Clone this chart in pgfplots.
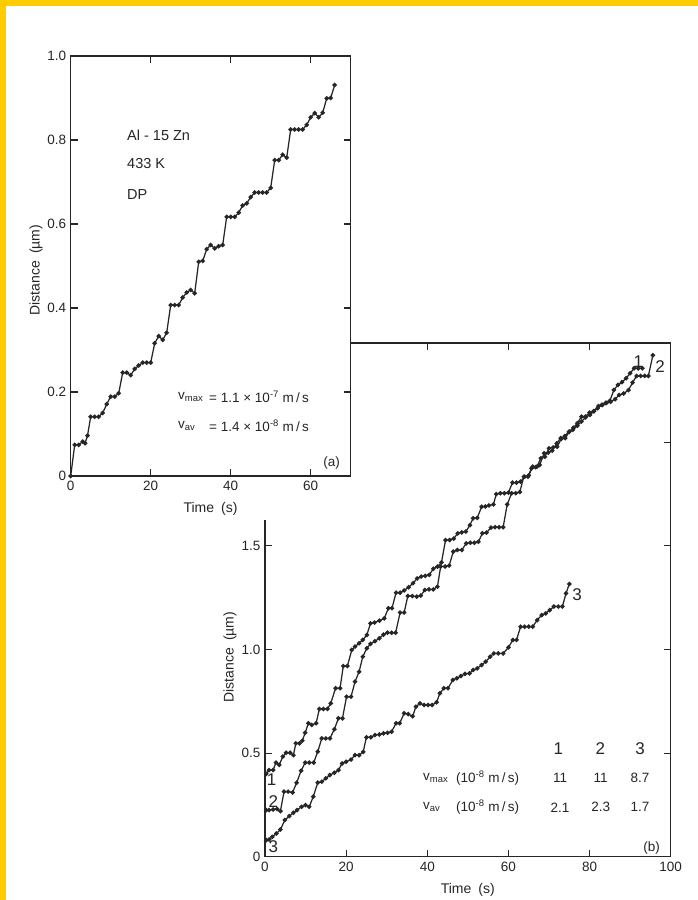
\documentclass[border=0pt]{standalone}
\usepackage{fontspec}
\setmainfont{Liberation Sans}
\usepackage{pgfplots}
\pgfplotsset{compat=1.18}
\definecolor{ink}{RGB}{38,38,38}
\definecolor{frameyellow}{RGB}{255,204,0}
\newcommand{\fs}[1]{\fontsize{#1bp}{#1bp}\selectfont}
\pgfplotsset{
  panel/.style={
    scale only axis, anchor=south west, clip=false,
    axis line style={ink, line width=1.5bp},
    every tick/.style={ink, line width=1.1bp},
    major tick length=7bp, tick align=inside,
    ticklabel style={font=\fs{13.5}, text=ink},
    /pgf/number format/assume math mode=true,
    xticklabel style={yshift=-2bp},
    yticklabel style={xshift=-1bp},
  },
  curve/.style={ink, line width=1.25bp, mark=*, mark size=1.6bp, mark options={ink, solid}},
}
\begin{document}
\begin{tikzpicture}
\useasboundingbox (0,0) rectangle (698bp,900bp);
\fill[white] (0,0) rectangle (698bp,900bp);

% ---------------- panel (b) ----------------
\begin{axis}[panel, at={(265bp,43.3bp)}, width=405.7bp, height=513.9bp,
  xmin=0, xmax=100, ymin=0, ymax=2.48,
  xtick={0,20,40,60,80,100}, xticklabels={0,20,40,60,80,100},
  ytick={0,0.5,1.0,1.5,2.0}, yticklabels={0,0.5,1.0,1.5,2.0}]
\addplot[curve] coordinates {
(0.3,0.40)(1,0.418)(2,0.418)(2.7,0.454)(3.5,0.443)(4.4,0.483)(5.2,0.502)(6.2,0.502)(7,0.490)
(7.6,0.547)(8.5,0.547)(9.2,0.56)(9.9,0.598)(10.7,0.644)(11.5,0.636)(12.6,0.644)(13.4,0.713)
(14.4,0.713)(15.4,0.713)(16.2,0.740)(17.4,0.813)(18.5,0.813)(19.3,0.920)(20.3,0.920)(21.4,0.998)
(22.2,1.014)(23.2,1.03)(24.1,1.046)(25.1,1.07)(26,1.126)(27,1.13)(28.2,1.139)(29.4,1.15)
(30.4,1.199)(31.3,1.199)(32.3,1.274)(33.3,1.274)(34.3,1.285)(35.4,1.30)(36.5,1.32)(37.5,1.343)
(38.5,1.352)(39.5,1.355)(40.5,1.36)(41.5,1.39)(42.5,1.40)(43.5,1.42)(44.5,1.528)(45.5,1.528)
(46.5,1.535)(47.5,1.56)(48.5,1.565)(49.5,1.569)(50.5,1.60)(51.3,1.633)(52.3,1.635)(53.4,1.689)
(54.3,1.69)(55.2,1.695)(56.3,1.70)(57,1.75)(58,1.754)(59,1.754)(60,1.757)(61,1.805)(62,1.805)
(63,1.81)(64,1.834)(65,1.84)(66,1.882)(67,1.882)(68,1.923)(69,1.93)(70,1.971)(71,1.975)
(72,1.978)(73,2.016)(74,2.02)(75,2.051)(76,2.07)(77,2.092)(78,2.124)(79,2.124)(80,2.143)
(81,2.15)(82,2.164)(83,2.18)(84,2.19)(85,2.20)(86,2.252)(87,2.277)(88,2.29)(89,2.309)
(90,2.333)(91,2.357)(92,2.357)(93,2.357)};
\addplot[curve] coordinates {
(0.3,0.225)(1,0.225)(2,0.228)(3,0.23)(3.8,0.22)(4.7,0.314)(5.7,0.314)(6.8,0.31)(7.8,0.357)
(8.9,0.415)(9.9,0.454)(10.9,0.454)(12,0.454)(13,0.507)(14,0.571)(15,0.571)(16,0.571)(17.1,0.615)
(18.1,0.668)(19.1,0.668)(20.1,0.772)(21.2,0.772)(22.2,0.845)(23.2,0.893)(24.1,0.965)(25.1,1.006)
(26,1.027)(27.1,1.04)(28.2,1.054)(29.2,1.072)(30.2,1.081)(31.2,1.081)(32.2,1.081)(33.3,1.178)
(34.3,1.178)(35.2,1.258)(36.3,1.258)(37.4,1.255)(38.4,1.26)(39.4,1.287)(40.4,1.29)(41.5,1.29)
(42.5,1.303)(43.3,1.40)(44.4,1.40)(45.4,1.405)(46.4,1.472)(47.4,1.48)(48.5,1.48)(49.6,1.512)
(50.6,1.515)(51.6,1.515)(52.6,1.52)(53.6,1.561)(54.6,1.564)(55.7,1.588)(56.7,1.59)(57.7,1.59)
(58.7,1.59)(59.7,1.70)(60.8,1.754)(61.8,1.754)(62.8,1.76)(63.8,1.834)(64.8,1.834)(65.7,1.874)
(66.7,1.88)(67.7,1.89)(68.8,1.947)(69.8,1.95)(70.8,1.96)(71.9,1.995)(72.9,2.02)(73.9,2.03)
(74.9,2.05)(75.9,2.06)(77,2.08)(78,2.10)(79,2.12)(80.1,2.132)(81.1,2.15)(82.2,2.174)(83.2,2.18)
(84.2,2.19)(85.2,2.195)(86.3,2.208)(87.3,2.228)(88.4,2.235)(89.6,2.252)(90.6,2.288)(91.6,2.32)
(92.6,2.32)(93.6,2.32)(94.5,2.32)(95.6,2.42)};
\addplot[curve] coordinates {
(0.3,0.08)(1,0.083)(1.8,0.096)(2.8,0.112)(3.8,0.131)(4.9,0.177)(6,0.196)(7,0.212)(7.9,0.225)
(9,0.241)(10,0.249)(10.9,0.241)(11.9,0.29)(13,0.357)(14,0.362)(15,0.378)(16,0.394)(17.1,0.405)
(18.1,0.418)(19,0.45)(20,0.458)(21.2,0.469)(22.2,0.49)(23.2,0.49)(24.2,0.506)(25,0.576)
(26.1,0.576)(27.1,0.587)(28.2,0.59)(29.2,0.595)(30.2,0.598)(31.2,0.603)(32.3,0.644)(33.2,0.644)
(34.3,0.692)(35.3,0.688)(36.4,0.678)(37.2,0.724)(38.2,0.740)(39.2,0.732)(40.2,0.732)(41.2,0.732)
(42.3,0.745)(43.1,0.789)(44.1,0.813)(45.1,0.813)(46.3,0.853)(47.3,0.861)(48.3,0.872)(49.3,0.882)
(50.4,0.885)(51.3,0.901)(52.3,0.909)(53.4,0.925)(54.4,0.941)(55.5,0.965)(56.4,0.981)(57.5,0.981)
(58.7,0.981)(60,1.01)(61.1,1.046)(62,1.046)(63,1.11)(64,1.11)(65,1.11)(66,1.11)(67.1,1.142)
(68.2,1.166)(69.2,1.174)(70.2,1.19)(71.2,1.207)(72.3,1.207)(73.3,1.207)(74.2,1.271)(75,1.316)};
\end{axis}

% labels of panel (b)
\begin{scope}[every node/.style={text=ink, inner sep=0pt}]
\node[font=\fs{17}] at (271.7bp,120bp) {1};
\node[font=\fs{17}] at (273.3bp,98.3bp) {2};
\node[font=\fs{17}] at (273.3bp,53.3bp) {3};
\node[font=\fs{17}] at (638.3bp,538.3bp) {1};
\node[font=\fs{17}] at (660bp,533.3bp) {2};
\node[font=\fs{17}] at (577bp,305bp) {3};
\node[font=\fs{17}] at (558.3bp,151.7bp) {1};
\node[font=\fs{17}] at (600.3bp,151.7bp) {2};
\node[font=\fs{17}] at (640bp,151.7bp) {3};
\node[font=\fs{13.5}, anchor=west] at (423bp,121.7bp) {v\textsubscript{max}};
\node[font=\fs{13.5}, anchor=west] at (456bp,121.7bp) {(10\textsuperscript{-8} m\,/\,s)};
\node[font=\fs{13.5}, anchor=west] at (423bp,92.7bp) {v\textsubscript{av}};
\node[font=\fs{13.5}, anchor=west] at (456bp,92.7bp) {(10\textsuperscript{-8} m\,/\,s)};
\node[font=\fs{13.5}] at (560bp,121.7bp) {11};
\node[font=\fs{13.5}] at (600.7bp,121.7bp) {11};
\node[font=\fs{13.5}] at (640bp,121.7bp) {8.7};
\node[font=\fs{13.5}] at (560bp,92.7bp) {2.1};
\node[font=\fs{13.5}] at (600.7bp,92.7bp) {2.3};
\node[font=\fs{13.5}] at (640bp,92.7bp) {1.7};
\node[font=\fs{13.5}] at (651.7bp,51.7bp) {(b)};
\node[font=\fs{14}] at (467.8bp,10bp) {Time\enspace(s)};
\node[font=\fs{14}, rotate=90] at (230bp,243bp) {Distance\enspace(µm)};
\end{scope}

% panel (a) lies on top of panel (b)
\fill[white] (0,380bp) rectangle (350.7bp,900bp);

\begin{axis}[panel, at={(70.7bp,424bp)}, width=280bp, height=420bp,
  xmin=0, xmax=70, ymin=0, ymax=1,
  xtick={0,20,40,60}, xticklabels={0,20,40,60},
  ytick={0,0.2,0.4,0.6,0.8,1.0}, yticklabels={0,0.2,0.4,0.6,0.8,1.0}]
\addplot[curve] coordinates {
(0,0)(1,0.074)(2,0.074)(3,0.082)(3.6,0.078)(4.2,0.096)(5,0.141)(6,0.141)(7,0.141)(8,0.150)
(9,0.171)(10,0.189)(11,0.189)(12,0.197)(13,0.246)(14,0.246)(15,0.240)(16,0.255)(17,0.263)
(18,0.270)(19,0.270)(20,0.270)(21,0.316)(22,0.333)(23,0.324)(24,0.341)(25,0.407)(26,0.407)
(27,0.407)(28,0.425)(29,0.437)(30,0.443)(31,0.435)(32,0.510)(33,0.512)(34,0.540)(35,0.550)
(36,0.542)(37,0.547)(38,0.550)(39,0.617)(40,0.617)(41,0.617)(42,0.627)(43,0.644)(44,0.649)
(45,0.664)(46,0.675)(47,0.675)(48,0.675)(49,0.675)(50,0.686)(51,0.752)(52,0.752)(53,0.765)
(54,0.758)(55,0.825)(56,0.825)(57,0.825)(58,0.825)(59,0.836)(60,0.854)(61,0.864)(62,0.854)
(63,0.865)(64,0.899)(65,0.90)(66,0.931)};
\end{axis}

\begin{scope}[every node/.style={text=ink, inner sep=0pt}]
\node[font=\fs{14.5}, anchor=west] at (127bp,765bp) {Al - 15 Zn};
\node[font=\fs{14.5}, anchor=west] at (127bp,736bp) {433 K};
\node[font=\fs{14.5}, anchor=west] at (127bp,705bp) {DP};
\node[font=\fs{13.5}, anchor=west] at (178bp,503.3bp) {v\textsubscript{max}};
\node[font=\fs{13.5}, anchor=west] at (209bp,503.3bp) {= 1.1 × 10\textsuperscript{-7} m\,/\,s};
\node[font=\fs{13.5}, anchor=west] at (178bp,474.3bp) {v\textsubscript{av}};
\node[font=\fs{13.5}, anchor=west] at (209bp,474.3bp) {= 1.4 × 10\textsuperscript{-8} m\,/\,s};
\node[font=\fs{13.5}] at (331.7bp,436.7bp) {(a)};
\node[font=\fs{14}] at (210.5bp,390.7bp) {Time\enspace(s)};
\node[font=\fs{14}, rotate=90] at (36bp,630bp) {Distance\enspace(µm)};
\end{scope}

% yellow frame of the scan
\fill[frameyellow] (0,894bp) rectangle (698bp,900bp);
\fill[frameyellow] (0,0) rectangle (5.5bp,900bp);
\end{tikzpicture}
\end{document}
